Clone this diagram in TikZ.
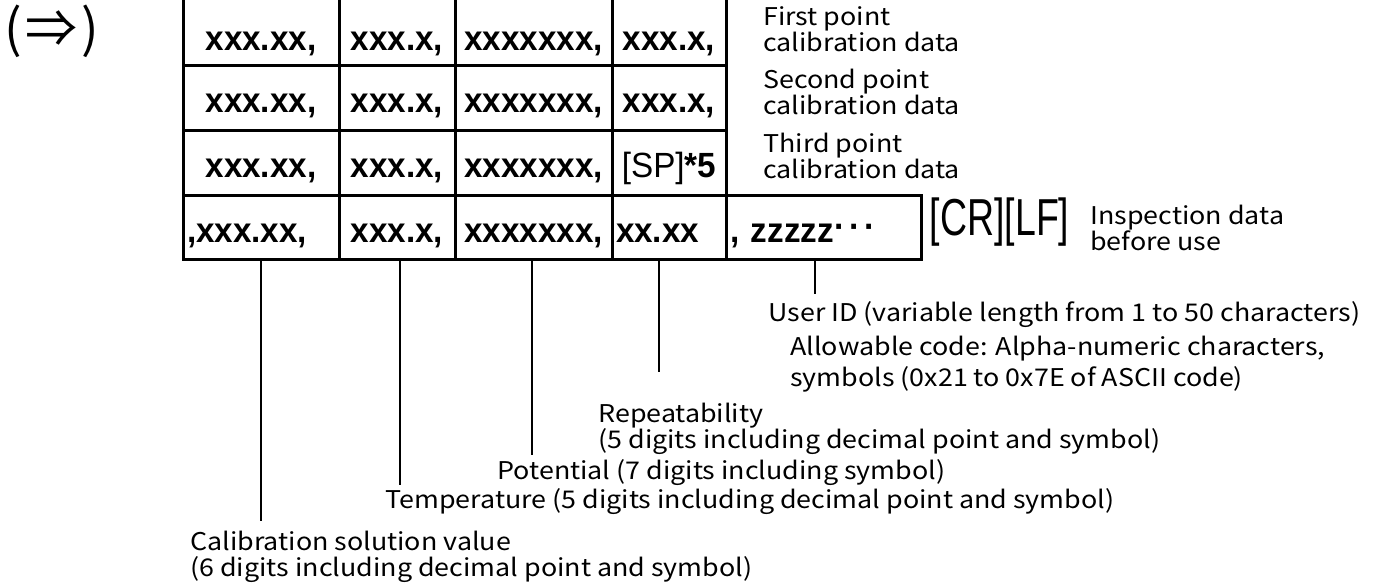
\documentclass[tikz,border=0pt]{standalone}
\usepackage{fontspec}
\setmainfont{Noto Sans CJK JP}
\newfontfamily\notefont[FakeStretch=1.1]{Noto Sans CJK JP}
\newfontfamily\cellfont[FakeStretch=0.95]{Liberation Sans}
\newfontfamily\crlffont{Liberation Sans}
\usepackage{graphicx}
\usepackage{tikz}
\usetikzlibrary{positioning}

\tikzset{
    cell/.style={draw, line width=1.5pt, inner xsep=2pt, inner ysep=0pt,
        font=\cellfont\bfseries\fontsize{17.5}{17.5}\selectfont, text height=15pt, text depth=0pt},
    lcell/.style={cell, align=left, text width=#1},
    lead/.style={line width=0.8pt},
    note/.style={font=\notefont\fontsize{12.2}{13}\selectfont, align=left, inner sep=0pt}
}

\begin{document}
\begin{tikzpicture}[x=0.5pt, y=-0.5pt]
    \useasboundingbox (0,0) rectangle (1382,585);

    % 记号
    \node[inner sep=0pt, font=\fontsize{26}{26}\selectfont] (mark) at (52,31) {(\kern2pt⇒\kern2pt)};

    % 第1~3行
    \foreach \r/\y/\hgt/\txt in {1/30.5/34.5/19.5, 2/97.5/32.5/15, 3/162.5/32.5/15} {
        \node[cell, minimum width=78pt, minimum height=\hgt pt, text height=\txt pt] (c\r1) at (261,\y) {xxx.xx,};
        \node[cell, minimum width=58pt, minimum height=\hgt pt, text height=\txt pt] (c\r2) at (397,\y) {xxx.x,};
        \node[cell, minimum width=78.5pt, minimum height=\hgt pt, text height=\txt pt] (c\r3) at (533.5,\y) {xxxxxxx,};
    }
    \node[cell, minimum width=57pt, minimum height=34.5pt, text height=19.5pt] (c14) at (669,30.5) {xxx.x,};
    \node[cell, minimum width=57pt, minimum height=32.5pt] (c24) at (669,97.5) {xxx.x,};
    \node[cell, minimum width=57pt, minimum height=32.5pt] (c34) at (669,162.5) {{\mdseries[SP]}*5};

    % 第4行
    \node[lcell=74pt, minimum height=32pt] (c41) at (261,227) {,xxx.xx,};
    \node[cell, minimum width=58pt, minimum height=32pt] (c42) at (397,227) {xxx.x,};
    \node[cell, minimum width=78.5pt, minimum height=32pt] (c43) at (533.5,227) {xxxxxxx,};
    \node[lcell=53pt, minimum height=32pt] (c44) at (669,227) {xx.xx};
    \node[lcell=93.5pt, minimum height=32pt] (c45) at (823.5,227) {, zzzzz\raisebox{.1em}{·\kern2pt·\kern2pt·}};
    \node[right=3.5pt of c45, yshift=2.5pt, inner sep=0pt, font=\crlffont\fontsize{26}{26}\selectfont] (crlf) {\scalebox{0.72}[1]{[CR][LF]}};

    % 右侧说明
    \node[note, anchor=west] (pt1) at (763,29.5) {First point\\calibration data};
    \node[note, anchor=west] (pt2) at (763,92) {Second point\\calibration data};
    \node[note, anchor=west] (pt3) at (763,156) {Third point\\calibration data};
    \node[note, anchor=west] (insp) at (1090,228) {Inspection data\\before use};

    % 下方说明
    \node[note, anchor=north west] (uid) at (768,301) {User ID (variable length from 1 to 50 characters)};
    \node[note, below right=4pt and 11pt of uid.south west, font=\notefont\fontsize{12.2}{15.5}\selectfont] (code) {Allowable code: Alpha-numeric characters,\\symbols (0x21 to 0x7E of ASCII code)};
    \node[note, anchor=north west] (rep) at (598,403) {Repeatability\\(5 digits including decimal point and symbol)};
    \node[note, anchor=north west] (pot) at (497,459) {Potential (7 digits including symbol)};
    \node[note, anchor=north west] (temp) at (385,488) {Temperature (5 digits including decimal point and symbol)};
    \node[note, anchor=north west] (calib) at (190,531) {Calibration solution value\\(6 digits including decimal point and symbol)};

    % 引出线
    \coordinate (calibtip) at ([yshift=5pt]calib.north);
    \coordinate (temptip) at ([yshift=1.5pt]temp.north);
    \coordinate (pottip) at ([yshift=2pt]pot.north);
    \coordinate (reptip) at ([yshift=15.5pt]rep.north);
    \coordinate (uidtip) at ([yshift=3.5pt]uid.north);
    \draw[lead] (c41.south) -- (c41.south |- calibtip);
    \draw[lead] ([xshift=1.5pt]c42.south) -- ([xshift=1.5pt]c42.south |- temptip);
    \draw[lead] ([xshift=-0.75pt]c43.south) -- ([xshift=-0.75pt]c43.south |- pottip);
    \draw[lead] ([xshift=-5pt]c44.south) -- ([xshift=-5pt]c44.south |- reptip);
    \draw[lead] ([xshift=-4.25pt]c45.south) -- ([xshift=-4.25pt]c45.south |- uidtip);
\end{tikzpicture}
\end{document}
